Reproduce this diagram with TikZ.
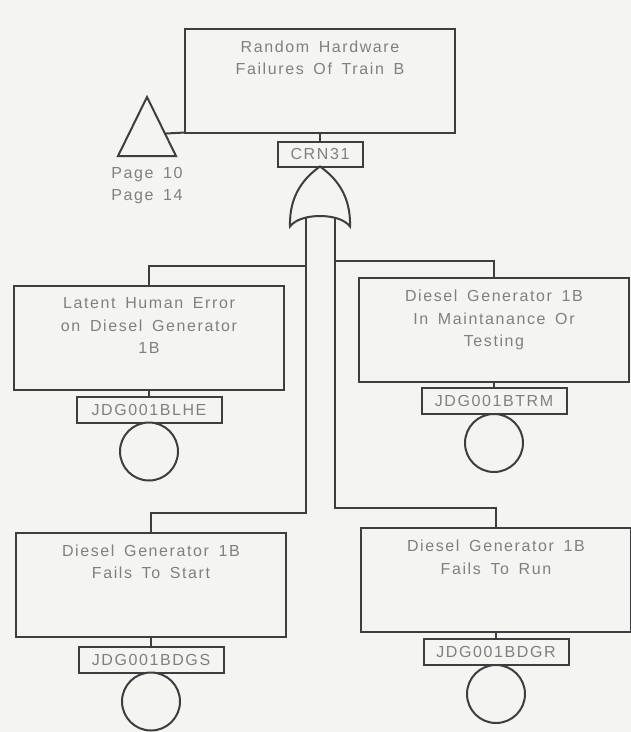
\documentclass[tikz,border=0pt]{standalone}
\usepackage{fontspec}
\usepackage{xcolor}
\usetikzlibrary{calc}
\usetikzlibrary{shapes.geometric,positioning}
\newfontfamily\scanfont[LetterSpace=10,WordSpace=1.6]{Liberation Sans}
\newcommand{\eventfont}{\scanfont\fontsize{16}{22.5}\selectfont}
\definecolor{paper}{RGB}{244,244,242}
\definecolor{ink}{RGB}{62,62,62}
\definecolor{inktext}{RGB}{128,128,128}

\begin{document}
\begin{tikzpicture}[x=1pt, y=-1pt, font=\eventfont,
  evbox/.style={draw=ink, line width=2pt, fill=paper, inner sep=0pt, outer sep=0pt, minimum width=270pt, minimum height=104pt},
  evtext/.style={text=inktext, align=center, inner sep=0pt, outer sep=0pt},
  idbox/.style={draw=ink, line width=2pt, fill=paper, text=inktext, inner sep=0pt, outer sep=0pt, minimum width=145pt, minimum height=26pt},
  basic/.style={circle, draw=ink, line width=2pt, fill=paper, inner sep=0pt, outer sep=0pt, minimum size=58pt},
  xfer/.style={isosceles triangle, isosceles triangle stretches, shape border rotate=90, draw=ink, line width=2pt, inner sep=0pt, outer sep=0pt, minimum width=58pt, minimum height=59pt},
  wire/.style={draw=ink, line width=2pt}]
\path[use as bounding box, fill=paper] (0,0) rectangle (631,732);

% top event and OR gate
\node[evbox] (top) at (320,80.5) {};
\node[evtext, below=12pt of top.north] (top-t) {Random Hardware\\Failures Of Train B};
\node[idbox, minimum width=85pt, minimum height=25pt, below=9pt of top] (crn) {CRN31};
\draw[wire] (top) -- (crn);

\coordinate (orgate) at (crn.south);
\begin{scope}[shift={(orgate)}]
\draw[wire, fill=paper] (0,0) .. controls (-14,10) and (-31,27) .. (-30,60)
  .. controls (-20,46) and (20,46) .. (30,60)
  .. controls (31,27) and (14,10) .. (0,0) -- cycle;
\coordinate (gate-in-l) at (-14.5,51);
\coordinate (gate-in-r) at (14.5,51);
\end{scope}

% transfer
\node[xfer, anchor=apex] (xfer) at (147,97) {};
\node[evtext, below=11pt of xfer.south] (xfer-t) {Page 10\\Page 14};
\coordinate (xfer-link) at ($(xfer.apex)!0.62!(xfer.right corner)$);
\draw[wire] (xfer-link) -- (top.south west);

% basic events
\node[evbox] (lhe) at (149,337.5) {};
\node[evtext, below=12pt of lhe.north] (lhe-t) {Latent Human Error\\on Diesel Generator\\1B};
\node[idbox, below=7pt of lhe] (lhe-id) {JDG001BLHE};
\node[basic, below=0pt of lhe-id] (lhe-c) {};
\draw[wire] (lhe) -- (lhe-id);

\node[evbox] (btrm) at (494,330) {};
\node[evtext, below=12pt of btrm.north] (btrm-t) {Diesel Generator 1B\\In Maintanance Or\\Testing};
\node[idbox, below=6pt of btrm] (btrm-id) {JDG001BTRM};
\node[basic, below=0pt of btrm-id] (btrm-c) {};
\draw[wire] (btrm) -- (btrm-id);

\node[evbox] (bdgs) at (151,584.5) {};
\node[evtext, below=12pt of bdgs.north] (bdgs-t) {Diesel Generator 1B\\Fails To Start};
\node[idbox, below=10pt of bdgs] (bdgs-id) {JDG001BDGS};
\node[basic, below=0pt of bdgs-id] (bdgs-c) {};
\draw[wire] (bdgs) -- (bdgs-id);

\node[evbox] (bdgr) at (496,580) {};
\node[evtext, below=12pt of bdgr.north] (bdgr-t) {Diesel Generator 1B\\Fails To Run};
\node[idbox, below=7pt of bdgr] (bdgr-id) {JDG001BDGR};
\node[basic, below=0pt of bdgr-id] (bdgr-c) {};
\draw[wire] (bdgr) -- (bdgr-id);

% gate inputs
\coordinate[above=20pt of lhe.north] (lhe-in);
\coordinate[above=17pt of btrm.north] (btrm-in);
\coordinate[above=20pt of bdgs.north] (bdgs-in);
\coordinate[above=20pt of bdgr.north] (bdgr-in);
\draw[wire] (gate-in-l) |- (lhe-in) -- (lhe.north);
\draw[wire] (gate-in-r) |- (btrm-in) -- (btrm.north);
\draw[wire] (gate-in-l) |- (bdgs-in) -- (bdgs.north);
\draw[wire] (gate-in-r) |- (bdgr-in) -- (bdgr.north);
\end{tikzpicture}
\end{document}
